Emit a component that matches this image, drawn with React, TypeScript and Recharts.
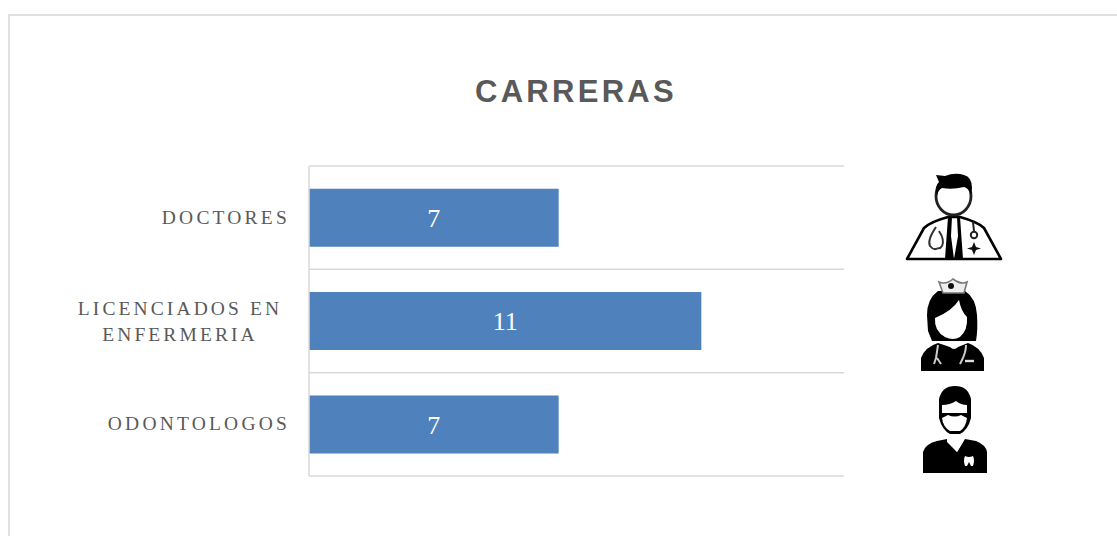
import React from "react";
import { BarChart, Bar, XAxis, YAxis, CartesianGrid, LabelList } from "recharts";

const categories = ["DOCTORES", "LICENCIADOS EN ENFERMERIA", "ODONTOLOGOS"];
const values = [7, 11, 7];
const tickLines: Record<string, string[]> = {
  DOCTORES: ["DOCTORES"],
  "LICENCIADOS EN ENFERMERIA": ["LICENCIADOS EN", "ENFERMERIA"],
  ODONTOLOGOS: ["ODONTOLOGOS"],
};
const data = categories.map((name, i) => ({ name, value: values[i] }));
const SERIF = "'Liberation Serif', 'DejaVu Serif', serif";

function CategoryTick(props: any) {
  const { x, y, payload } = props;
  const lines = tickLines[payload.value] || [payload.value];
  if (lines.length === 1) {
    return (
      <text x={x - 11} y={y + 6} textAnchor="end" fill="#595959" fontFamily={SERIF} fontSize={19.5} letterSpacing={3.2}>
        {lines[0]}
      </text>
    );
  }
  return (
    <g>
      {lines.map((l: string, i: number) => (
        <text key={l} x={180} y={y - 6 + i * 26} textAnchor="middle" fill="#595959" fontFamily={SERIF} fontSize={19.5} letterSpacing={3.1}>
          {l}
        </text>
      ))}
    </g>
  );
}

function Doctor() {
  return (
    <g>
      <path d="M907 259 L924 228 Q930 222 948 217 L960 217 Q978 222 984 228 L1001 259 Z" fill="#fff" stroke="#000" strokeWidth={2.6} strokeLinejoin="round" />
      <path d="M948 217 L952 217 L951 236 L954 259 L958 236 L957 217 L960 217 L963 259 L945 259 Z" fill="#000" />
      <path d="M936 227 Q927 240 930 246 Q934 251 938 248 M939 231 Q945 240 942 246 Q940 249 938 248" fill="none" stroke="#333" strokeWidth={2} />
      <circle cx={974} cy={235} r={3.2} fill="none" stroke="#222" strokeWidth={2} />
      <path d="M973 222 L974 231" stroke="#222" strokeWidth={2} />
      <path d="M974 242 L976 247 L981 248.5 L976 250 L974 255 L972 250 L967 248.5 L972 247 Z" fill="#111" />
      <ellipse cx={953.5} cy={196} rx={17.5} ry={19} fill="#fff" stroke="#222" strokeWidth={2.8} />
      <path d="M936 175 L945 176 Q955 172 964 175 Q972 177 972 188 L971 194 Q968 188 964 187 Q952 190 942 188 Q938 190 937 196 Q934 186 939 182 Z" fill="#000" />
    </g>
  );
}

function Nurse() {
  return (
    <g>
      <path d="M921 371 L921 358 Q925 347 938 343 L950 347 Q954 351 958 347 L968 343 Q980 347 984 358 L984 371 Z" fill="#000" />
      <path d="M949 339 L947 345 Q954 351 960 345 L958 339 Z" fill="#fff" />
      <path d="M938 345 Q937 352 936 358 M936 358 L934 364 M937 358 L941 364 M966 345 Q966 352 962 360 L960 364" fill="none" stroke="#ccc" strokeWidth={2} />
      <path d="M965 361 L974 361" stroke="#ddd" strokeWidth={2.4} />
      <path d="M938 291 Q927 299 927 315 L928 331 L932 341 L976 341 Q978 330 977 315 Q976 298 965 291 Z" fill="#000" />
      <path d="M959 300 Q952 311 935 318 Q934 331 945 337 Q953 341 960 337 Q968 330 967 317 Q961 311 959 300 Z" fill="#fff" />
      <path d="M939 282 Q946 285 953 279 Q961 285 967 282 L964 293 L943 293 Z" fill="#eee" stroke="#777" strokeWidth={1.6} />
      <circle cx={951} cy={286} r={3} fill="#111" />
    </g>
  );
}

function Dentist() {
  return (
    <g>
      <path d="M923 473 L923 452 Q925 444 937 441 L947 439 L957 452 L965 439 L976 441 Q986 445 987 452 L987 473 Z" fill="#000" />
      <path d="M947 431 L963 431 L963 442 L957 452 L947 442 Z" fill="#fff" />
      <path d="M955 386 Q968 386 971 399 L971 418 Q968 430 960 434 L950 434 Q942 430 939 418 L939 399 Q942 386 955 386 Z" fill="#000" />
      <path d="M942 405 Q950 405 956 401 Q961 405 967 405 L967 413 L942 413 Z" fill="#fff" />
      <path d="M942 418 L948 415 Q955 418 961 415 L967 418 Q966 427 960 431 L950 431 Q943 427 942 418 Z" fill="#fff" />
      <path d="M965 456 Q969 458 973 456 Q975 460 973 466 L971 466 L969 462 L967 466 L965 466 Q963 460 965 456 Z" fill="#fff" />
    </g>
  );
}

export default function App() {
  return (
    <div style={{ position: "absolute", left: 0, top: 0, width: 1117, height: 536, background: "#fff", overflow: "hidden" }}>
      <div style={{ position: "absolute", left: 8, top: 14, width: 1200, height: 600, border: "2px solid #e0e0e0", boxSizing: "border-box" }} />
      <div style={{ position: "absolute", left: 0, top: 0 }}>
        <BarChart
          width={1117}
          height={536}
          data={data}
          layout="vertical"
          margin={{ top: 166, right: 273, bottom: 60, left: 0 }}
          barCategoryGap="22%"
        >
          <text x={576} y={102} textAnchor="middle" fontFamily="'Liberation Sans', Arial, sans-serif" fontWeight={700} fontSize={31} letterSpacing={3.3} fill="#595959">
            CARRERAS
          </text>
          <CartesianGrid
            vertical={false}
            stroke="#d9d9d9"
            strokeWidth={1.5}
            horizontalCoordinatesGenerator={({ offset }: any) =>
              [0, 1, 2, 3].map((i) => offset.top + (offset.height * i) / categories.length)
            }
          />
          <XAxis type="number" hide domain={[0, 15]} />
          <YAxis
            type="category"
            dataKey="name"
            width={309}
            axisLine={{ stroke: "#d9d9d9", strokeWidth: 1.5 }}
            tickLine={false}
            interval={0}
            tick={<CategoryTick />}
          />
          <Bar dataKey="value" fill="#4f81bd" isAnimationActive={false}>
            <LabelList dataKey="value" position="center" fill="#ffffff" fontFamily={SERIF} fontSize={26} />
          </Bar>
        </BarChart>
      </div>
      <svg width={1117} height={536} style={{ position: "absolute", left: 0, top: 0 }}>
        <defs>
          <filter id="soft" x="-10%" y="-10%" width="120%" height="120%">
            <feGaussianBlur stdDeviation="0.6" />
          </filter>
        </defs>
        <g filter="url(#soft)">
          <Doctor />
          <Nurse />
          <Dentist />
        </g>
      </svg>
    </div>
  );
}
